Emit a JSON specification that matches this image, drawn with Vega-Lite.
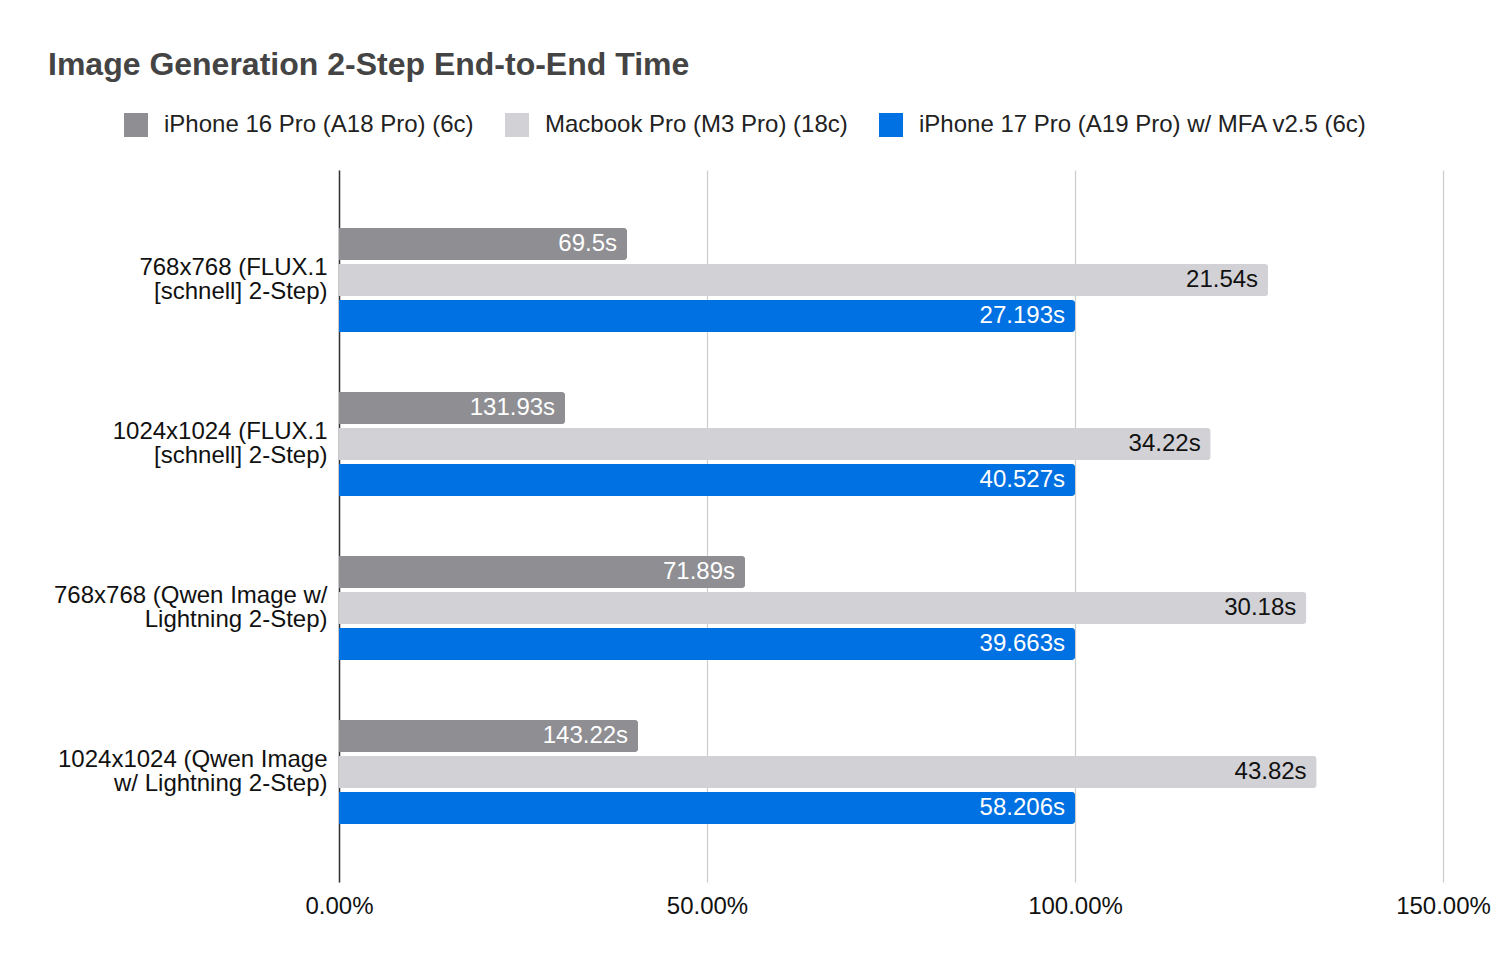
{
  "$schema": "https://vega.github.io/schema/vega-lite/v6.json",
  "autosize": {"type": "none"},
  "padding": {"left": 339, "top": 170, "right": 49, "bottom": 84},
  "width": 1104,
  "height": 712,
  "background": "white",
  "config": {
    "font": "Liberation Sans",
    "view": {"stroke": null}
  },
  "title": {
    "text": "Image Generation 2-Step End-to-End Time",
    "anchor": "start",
    "frame": "group",
    "dx": -291,
    "offset": 31,
    "fontSize": 32,
    "fontWeight": "bold",
    "color": "#444444",
    "font": "Liberation Sans"
  },
  "data": {
    "values": [
      {"group": "768x768 (FLUX.1|[schnell] 2-Step)", "series": "iPhone 16 Pro (A18 Pro) (6c)", "pct": 0.3913, "label": "69.5s"},
      {"group": "768x768 (FLUX.1|[schnell] 2-Step)", "series": "Macbook Pro (M3 Pro) (18c)", "pct": 1.2624, "label": "21.54s"},
      {"group": "768x768 (FLUX.1|[schnell] 2-Step)", "series": "iPhone 17 Pro (A19 Pro) w/ MFA v2.5 (6c)", "pct": 1.0, "label": "27.193s"},
      {"group": "1024x1024 (FLUX.1|[schnell] 2-Step)", "series": "iPhone 16 Pro (A18 Pro) (6c)", "pct": 0.3072, "label": "131.93s"},
      {"group": "1024x1024 (FLUX.1|[schnell] 2-Step)", "series": "Macbook Pro (M3 Pro) (18c)", "pct": 1.1843, "label": "34.22s"},
      {"group": "1024x1024 (FLUX.1|[schnell] 2-Step)", "series": "iPhone 17 Pro (A19 Pro) w/ MFA v2.5 (6c)", "pct": 1.0, "label": "40.527s"},
      {"group": "768x768 (Qwen Image w/|Lightning 2-Step)", "series": "iPhone 16 Pro (A18 Pro) (6c)", "pct": 0.5517, "label": "71.89s"},
      {"group": "768x768 (Qwen Image w/|Lightning 2-Step)", "series": "Macbook Pro (M3 Pro) (18c)", "pct": 1.3142, "label": "30.18s"},
      {"group": "768x768 (Qwen Image w/|Lightning 2-Step)", "series": "iPhone 17 Pro (A19 Pro) w/ MFA v2.5 (6c)", "pct": 1.0, "label": "39.663s"},
      {"group": "1024x1024 (Qwen Image|w/ Lightning 2-Step)", "series": "iPhone 16 Pro (A18 Pro) (6c)", "pct": 0.4064, "label": "143.22s"},
      {"group": "1024x1024 (Qwen Image|w/ Lightning 2-Step)", "series": "Macbook Pro (M3 Pro) (18c)", "pct": 1.3283, "label": "43.82s"},
      {"group": "1024x1024 (Qwen Image|w/ Lightning 2-Step)", "series": "iPhone 17 Pro (A19 Pro) w/ MFA v2.5 (6c)", "pct": 1.0, "label": "58.206s"}
    ]
  },
  "encoding": {
    "y": {
      "field": "group",
      "type": "nominal",
      "sort": null,
      "title": null,
      "scale": {"paddingInner": 0.366, "paddingOuter": 0.354},
      "axis": {
        "labelExpr": "split(datum.label, '|')",
        "labelFontSize": 24,
        "labelColor": "#111111",
        "labelPadding": 12,
        "labelLineHeight": 24,
        "labelOffset": -12,
        "labelLimit": 400,
        "ticks": false,
        "domainColor": "#333333",
        "domainWidth": 1.5
      }
    },
    "yOffset": {
      "field": "series",
      "type": "nominal",
      "sort": null,
      "scale": {"paddingInner": 0.111, "paddingOuter": 0}
    },
    "x": {
      "field": "pct",
      "type": "quantitative",
      "title": null,
      "scale": {"domain": [0, 1.5], "nice": false},
      "axis": {
        "values": [0, 0.5, 1, 1.5],
        "format": ".2%",
        "labelFontSize": 24,
        "labelColor": "#111111",
        "labelPadding": 12,
        "labelFlush": false,
        "ticks": false,
        "domain": false,
        "gridColor": "#cccccc",
        "gridWidth": 1.2
      }
    }
  },
  "layer": [
    {
      "mark": {"type": "bar", "cornerRadiusEnd": 3},
      "encoding": {
        "color": {
          "field": "series",
          "type": "nominal",
          "sort": null,
          "scale": {
            "domain": ["iPhone 16 Pro (A18 Pro) (6c)", "Macbook Pro (M3 Pro) (18c)", "iPhone 17 Pro (A19 Pro) w/ MFA v2.5 (6c)"],
            "range": ["#8e8e93", "#d1d1d6", "#0071e3"]
          },
          "legend": {
            "title": null,
            "orient": "none",
            "direction": "horizontal",
            "legendX": -215,
            "legendY": -57,
            "symbolType": "square",
            "symbolSize": 576,
            "symbolStrokeWidth": 0,
            "symbolOpacity": 1,
            "labelFontSize": 24,
            "labelColor": "#222222",
            "labelOffset": 16,
            "labelLimit": 500,
            "columnPadding": 31
          }
        }
      }
    },
    {
      "mark": {"type": "text", "align": "right", "baseline": "middle", "dx": -10, "fontSize": 24},
      "encoding": {
        "text": {"field": "label"},
        "color": {
          "condition": {"test": "datum.series == 'Macbook Pro (M3 Pro) (18c)'", "value": "#111111"},
          "value": "white"
        }
      }
    }
  ]
}
